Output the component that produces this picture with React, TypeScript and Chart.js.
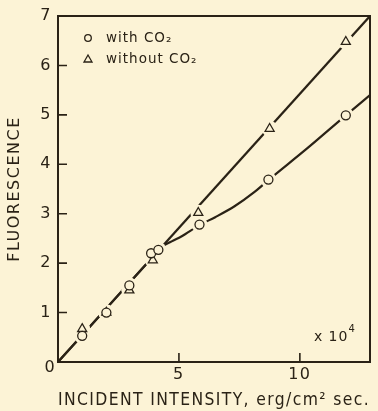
import React, { useEffect, useRef } from 'react';
import { Chart, registerables } from 'chart.js';

Chart.register(...registerables);

// ---- data ----
const xTickValues = [5, 10];
const yTickValues = [1, 2, 3, 4, 5, 6, 7];
const xMin = 0;
const xMax = 12.9;
const yMin = 0;
const yMax = 7;

// "with CO2" measured points (circles)
const withCO2X = [1.0, 2.0, 2.95, 3.85, 4.15, 5.85, 8.7, 11.9];
const withCO2Y = [0.53, 1.0, 1.55, 2.2, 2.27, 2.78, 3.69, 4.99];

// "without CO2" measured points (triangles)
const withoutCO2X = [1.0, 2.0, 2.95, 3.92, 5.8, 8.75, 11.9];
const withoutCO2Y = [0.67, 1.0, 1.45, 2.06, 3.02, 4.72, 6.48];

// hand-drawn curve through the "with CO2" points (shares the straight line up to ~4.3)
const withCurveX = [0, 1.0, 2.0, 3.0, 4.0, 4.3, 4.7, 5.1, 5.85, 6.5, 7.3, 8.1, 8.7, 10.3, 11.9, 12.9];
const withCurveY = [0, 0.54, 1.085, 1.63, 2.17, 2.33, 2.44, 2.54, 2.77, 2.93, 3.15, 3.43, 3.68, 4.32, 4.99, 5.4];

// straight line through the "without CO2" points
const withoutLineX = [0, 12.9];
const withoutLineY = [0, 7.0];

const legendLabels = ['with CO\u2082', 'without CO\u2082'];
const xTitle = 'INCIDENT INTENSITY, erg/cm\u00B2 sec.';
const yTitle = 'FLUORESCENCE';
const multiplierBase = 'x 10';
const multiplierExp = '4';

const INK = '#2a2216';
const BG = '#fcf3d6';
const FONT = "'DejaVu Sans', 'Liberation Sans', sans-serif";

const pts = (xs: number[], ys: number[]) => xs.map((x, i) => ({ x, y: ys[i] }));

export default function App() {
  const ref = useRef<HTMLCanvasElement>(null);

  useEffect(() => {
    document.body.style.margin = '0';
    document.body.style.background = BG;
    const canvas = ref.current!;

    const spacingPlugin = {
      id: 'spacing',
      beforeUpdate(chart: any) {
        (chart.ctx as any).letterSpacing = '1.5px';
      },
      beforeDraw(chart: any) {
        (chart.ctx as any).letterSpacing = '1.5px';
      },
    };

    const decor = {
      id: 'decor',
      beforeDatasetsDraw(chart: any) {
        const { ctx, chartArea } = chart;
        const xs = chart.scales.x;
        const ys = chart.scales.y;
        ctx.save();
        ctx.strokeStyle = INK;
        ctx.lineWidth = 2;
        ctx.strokeRect(chartArea.left, chartArea.top, chartArea.right - chartArea.left, chartArea.bottom - chartArea.top);
        ctx.lineWidth = 1.6;
        ctx.beginPath();
        yTickValues.forEach((v) => {
          const y = ys.getPixelForValue(v);
          ctx.moveTo(chartArea.left, y);
          ctx.lineTo(chartArea.left + 9, y);
        });
        xTickValues.forEach((v) => {
          const x = xs.getPixelForValue(v);
          ctx.moveTo(x, chartArea.bottom);
          ctx.lineTo(x, chartArea.bottom - 9);
        });
        ctx.stroke();
        ctx.restore();
      },
      afterDraw(chart: any) {
        const { ctx, chartArea } = chart;
        const xs = chart.scales.x;
        const ys = chart.scales.y;
        ctx.save();
        (ctx as any).letterSpacing = '1px';
        ctx.fillStyle = INK;
        ctx.strokeStyle = INK;
        // shared origin label
        ctx.font = `16px ${FONT}`;
        ctx.textAlign = 'center';
        ctx.textBaseline = 'middle';
        ctx.fillText('0', xs.getPixelForValue(0) - 8, ys.getPixelForValue(0) + 6);
        // x 10^4
        ctx.font = `14px ${FONT}`;
        ctx.textAlign = 'left';
        const mx = xs.getPixelForValue(10.58);
        const my = ys.getPixelForValue(0.5);
        ctx.fillText(multiplierBase, mx, my);
        const w = ctx.measureText(multiplierBase).width;
        ctx.font = `10px ${FONT}`;
        ctx.fillText(multiplierExp, mx + w, my - 8);
        // legend
        const lx = chartArea.left + 30;
        const ly1 = chartArea.top + 22;
        const ly2 = chartArea.top + 43;
        ctx.lineWidth = 1.3;
        ctx.fillStyle = BG;
        ctx.beginPath();
        ctx.arc(lx, ly1, 3.3, 0, Math.PI * 2);
        ctx.fill();
        ctx.stroke();
        ctx.beginPath();
        ctx.moveTo(lx, ly2 - 4);
        ctx.lineTo(lx + 4, ly2 + 3);
        ctx.lineTo(lx - 4, ly2 + 3);
        ctx.closePath();
        ctx.fill();
        ctx.stroke();
        ctx.fillStyle = INK;
        ctx.font = `13.5px ${FONT}`;
        ctx.textAlign = 'left';
        ctx.textBaseline = 'middle';
        ctx.fillText(legendLabels[0], lx + 18, ly1);
        ctx.fillText(legendLabels[1], lx + 18, ly2);
        ctx.restore();
      },
    };

    const chart = new Chart(canvas, {
      type: 'scatter',
      data: {
        datasets: [
          {
            label: 'without line',
            data: pts(withoutLineX, withoutLineY),
            showLine: true,
            borderColor: INK,
            borderWidth: 2.2,
            pointRadius: 0,
            order: 5,
          },
          {
            label: 'with curve',
            data: pts(withCurveX, withCurveY),
            showLine: true,
            cubicInterpolationMode: 'monotone',
            borderColor: INK,
            borderWidth: 2.2,
            pointRadius: 0,
            order: 5,
          },
          {
            label: 'with halo',
            data: pts(withCO2X, withCO2Y),
            showLine: false,
            pointRadius: 8,
            pointBackgroundColor: BG,
            pointBorderWidth: 0,
            pointBorderColor: BG,
            order: 3,
          },
          {
            label: 'without halo',
            data: pts(withoutCO2X, withoutCO2Y),
            showLine: false,
            pointRadius: 8,
            pointBackgroundColor: BG,
            pointBorderWidth: 0,
            pointBorderColor: BG,
            order: 3,
          },
          {
            label: legendLabels[0],
            data: pts(withCO2X, withCO2Y),
            showLine: false,
            pointStyle: 'circle',
            pointRadius: 4.5,
            pointBackgroundColor: BG,
            pointBorderColor: INK,
            pointBorderWidth: 1.3,
            order: 1,
          },
          {
            label: legendLabels[1],
            data: pts(withoutCO2X, withoutCO2Y),
            showLine: false,
            pointStyle: 'triangle',
            pointRadius: 5.2,
            pointBackgroundColor: BG,
            pointBorderColor: INK,
            pointBorderWidth: 1.3,
            order: 1,
          },
        ] as any,
      },
      options: {
        animation: false,
        responsive: false,
        events: [],
        layout: { padding: { top: 16, right: 3, left: 0, bottom: 0 } },
        plugins: { legend: { display: false }, tooltip: { enabled: false } },
        scales: {
          x: {
            type: 'linear',
            min: xMin,
            max: xMax,
            afterBuildTicks: (s: any) => {
              s.ticks = xTickValues.map((v) => ({ value: v }));
            },
            afterFit: (s: any) => {
              s.height = 49;
            },
            grid: { display: false, drawTicks: false },
            border: { display: false },
            ticks: { color: INK, font: { family: FONT, size: 16 }, padding: 3, maxRotation: 0 },
            title: { display: true, text: xTitle, color: INK, font: { family: FONT, size: 17 }, padding: 0 },
          },
          y: {
            type: 'linear',
            min: yMin,
            max: yMax,
            afterBuildTicks: (s: any) => {
              s.ticks = yTickValues.map((v) => ({ value: v }));
            },
            afterFit: (s: any) => {
              s.width = 58;
            },
            grid: { display: false, drawTicks: false },
            border: { display: false },
            ticks: { color: INK, font: { family: FONT, size: 16 }, padding: 6 },
            title: { display: true, text: yTitle, color: INK, font: { family: FONT, size: 16 }, padding: { top: 5, bottom: 0 } },
          },
        },
      } as any,
      plugins: [spacingPlugin, decor],
    });

    return () => chart.destroy();
  }, []);

  return (
    <div style={{ position: 'absolute', left: 0, top: 0, width: 378, height: 411, background: BG }}>
      <canvas ref={ref} width={378} height={411} style={{ display: 'block', width: 378, height: 411 }} />
    </div>
  );
}
